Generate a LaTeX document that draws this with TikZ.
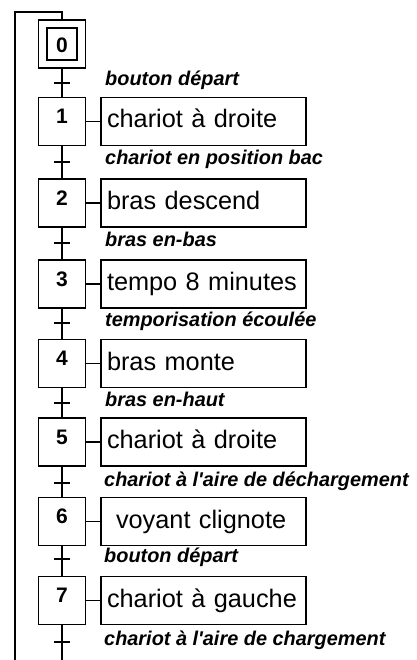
\documentclass[tikz,border=0pt]{standalone}
\usepackage{fontspec}
\setmainfont{Liberation Sans}
\newfontfamily\plainfont{Liberation Sans}
\begin{document}
\begin{tikzpicture}[x=1pt,y=-1pt,
  stepbox/.style={draw,line width=1.8pt,minimum width=47pt,minimum height=48pt,inner sep=0pt},
  initbox/.style={draw,line width=1.8pt,minimum width=30pt,minimum height=32pt,inner sep=0pt},
  actbox/.style={draw,line width=1.8pt,minimum width=205pt,minimum height=48pt,inner sep=0pt,
    text width=193pt,align=left,font=\fontsize{25.3}{25.3}\selectfont,text height=18pt,text depth=5pt},
  num/.style={inner sep=0pt,font=\fontsize{21}{21}\selectfont\bfseries},
  cond/.style={anchor=base west,inner sep=0pt,font=\plainfont\fontsize{19.9}{19.9}\selectfont\bfseries\itshape},
  link/.style={line width=1.6pt}]
\useasboundingbox (0,0) rectangle (416,660);

% step 0
\node[stepbox] (s0) at (62,44) {};
\node[initbox] (i0) at (62,44) {};
\node[num] (n0) at (62,45) {0};

% steps 1..7 with actions
\foreach \k/\c in {1/121.5,2/203,3/284,4/363.5,5/442,6/521.5,7/600.5}{
  \node[stepbox] (s\k) at (62,\c) {};
  \node[num] (n\k) at (62,\c-5) {\k};
}
\node[actbox] (a1) at (203.5,121.5) {chariot à droite};
\node[actbox] (a2) at (203.5,203) {bras descend};
\node[actbox] (a3) at (203.5,284) {tempo 8 minutes};
\node[actbox] (a4) at (203.5,363.5) {bras monte};
\node[actbox] (a5) at (203.5,442) {chariot à droite};
\node[actbox] (a6) at (203.5,521.5) {\hspace*{9pt}voyant clignote};
\node[actbox] (a7) at (203.5,600.5) {chariot à gauche};
\foreach \k in {1,...,7}{ \draw[link] (s\k.east) -- (a\k.west); }

% links between steps
\foreach \a/\b in {0/1,1/2,2/3,3/4,4/5,5/6,6/7}{ \draw[link] (s\a.south) -- (s\b.north); }

% transitions
\foreach \k/\y in {0/83,1/162,2/243,3/323,4/403,5/483,6/559,7/642}{
  \coordinate (t\k) at (62,\y);
  \draw[link] ([xshift=-8pt]t\k) -- ([xshift=8pt]t\k);
}
\node[cond] (c0) at (105,86) {bouton départ};
\node[cond] (c1) at (105,165) {chariot en position bac};
\node[cond] (c2) at (105,246) {bras en-bas};
\node[cond] (c3) at (105,326) {temporisation écoulée};
\node[cond] (c4) at (105,406) {bras en-haut};
\node[cond] (c5) at (104,486) {chariot à l'aire de déchargement};
\node[cond] (c6) at (104,562) {bouton départ};
\node[cond] (c7) at (104,645) {chariot à l'aire de chargement};

% loop back
\coordinate (top) at (62,12);
\coordinate (topL) at (15,12);
\coordinate (botL) at (15,660);
\coordinate (bot) at (62,660);
\draw[link] (s0.north) -- (top) -- (topL) -- (botL);
\draw[link] (s7.south) -- (bot);
\end{tikzpicture}
\end{document}
